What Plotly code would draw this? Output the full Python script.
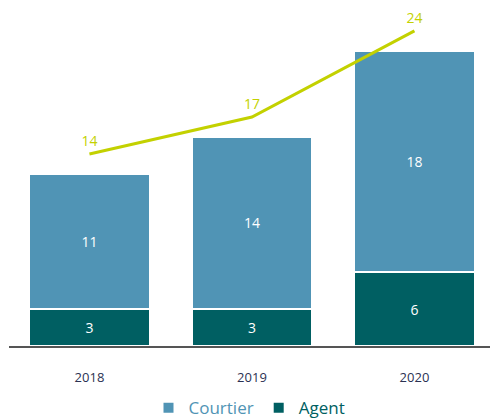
import plotly.graph_objects as go

years = ["2018", "2019", "2020"]
agent = [3, 3, 6]
courtier = [11, 14, 18]
total = [14, 17, 24]

COURTIER_COLOR = "#5094b5"
AGENT_COLOR = "#005f62"
TOTAL_COLOR = "#c3d100"
FONT = "Open Sans"

fig = go.Figure()

fig.add_trace(go.Bar(
    x=years, y=agent, name="<span style='color:%s'>Agent</span>" % AGENT_COLOR,
    marker=dict(color=AGENT_COLOR, line=dict(color="white", width=2)),
    text=agent, textposition="inside", insidetextanchor="middle",
    textfont=dict(color="white", size=14, family=FONT),
    width=0.74, legendrank=2,
))
fig.add_trace(go.Bar(
    x=years, y=courtier, name="<span style='color:%s'>Courtier</span>" % COURTIER_COLOR,
    marker=dict(color=COURTIER_COLOR, line=dict(color="white", width=2)),
    text=courtier, textposition="inside", insidetextanchor="middle",
    textfont=dict(color="white", size=14, family=FONT),
    width=0.74, legendrank=1,
))
fig.add_trace(go.Scatter(
    x=years, y=total, mode="lines+markers+text", yaxis="y2",
    line=dict(color=TOTAL_COLOR, width=3),
    marker=dict(size=6, color="rgba(0,0,0,0)"),
    text=total, textposition="top center",
    textfont=dict(color=TOTAL_COLOR, size=14, family=FONT),
    showlegend=False, cliponaxis=False,
))

y_top = 27.3
shift = 1.6

fig.update_layout(
    width=490, height=419,
    margin=dict(l=9, r=0, t=10, b=73, autoexpand=False),
    barmode="stack",
    plot_bgcolor="white", paper_bgcolor="white",
    font=dict(family=FONT, size=13, color="#2b3152"),
    xaxis=dict(
        range=[-0.495, 2.465], showgrid=False, zeroline=False,
        showline=True, linecolor="#555555", linewidth=2,
        ticks="", ticklabelstandoff=18,
        tickfont=dict(size=13, color="#2b3152", family=FONT),
        fixedrange=True,
    ),
    yaxis=dict(range=[0, y_top], visible=False, fixedrange=True),
    yaxis2=dict(range=[-shift, y_top - shift], overlaying="y",
                visible=False, fixedrange=True),
    legend=dict(
        orientation="h", traceorder="normal",
        x=0.5, xanchor="center", y=-0.185, yanchor="middle",
        font=dict(size=17, family=FONT), itemclick=False, itemdoubleclick=False,
    ),
    hovermode=False,
)

fig.write_html("out.html")
